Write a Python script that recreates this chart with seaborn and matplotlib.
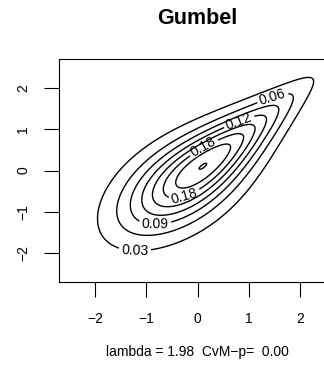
import math
import numpy as np
import matplotlib
matplotlib.use("Agg")
import matplotlib.pyplot as plt
import seaborn as sns

# Fitted Gumbel copula with standard normal margins
family = "Gumbel"
theta = 1.98
cvm_p = 0.00
levels = [0.03, 0.06, 0.09, 0.12, 0.15, 0.18, 0.21, 0.24]
labelled_levels = [0.03, 0.06, 0.09, 0.12, 0.15, 0.18]
ticks = [-2, -1, 0, 1, 2]
grid_lo, grid_hi, grid_n = -2.5, 2.5, 401

# where each contour label sits along its curve
label_spots = [(-1.22, -1.90), (1.47, 1.74), (-0.83, -1.22),
               (0.82, 1.15), (0.11, 0.58), (-0.28, -0.51)]

sns.set_theme(style="white")
plt.rcParams["font.family"] = ["Liberation Sans", "DejaVu Sans"]
plt.rcParams["axes.unicode_minus"] = True
plt.rcParams["text.color"] = "black"
plt.rcParams["axes.labelcolor"] = "black"

_erf = np.vectorize(math.erf)


def norm_cdf(z):
    return 0.5 * (1.0 + _erf(z / math.sqrt(2.0)))


def norm_pdf(z):
    return np.exp(-0.5 * z * z) / math.sqrt(2.0 * math.pi)


def gumbel_density(z1, z2, th):
    u, v = norm_cdf(z1), norm_cdf(z2)
    x, y = -np.log(u), -np.log(v)
    a = x ** th + y ** th
    s = a ** (1.0 / th)
    cop = np.exp(-s)
    c = cop * (x * y) ** (th - 1) / (u * v) * a ** (1.0 / th - 2.0) * (s + th - 1.0)
    return c * norm_pdf(z1) * norm_pdf(z2)


g = np.linspace(grid_lo, grid_hi, grid_n)
X, Y = np.meshgrid(g, g)
Z = gumbel_density(X, Y, theta)

W, H = 324, 366
fig = plt.figure(figsize=(W / 100, H / 100), dpi=100)
fig.patch.set_facecolor("white")
ax = fig.add_axes([59 / W, 84.3 / H, 277.2 / W, 222.4 / H])
ax.set_facecolor("white")

cs = ax.contour(X, Y, Z, levels=levels, colors="black", linewidths=1.0)
ax.clabel(cs, levels=labelled_levels, fmt="%.2f", fontsize=10, inline=True,
          inline_spacing=4, manual=label_spots, colors="black")

ax.set_xlim(-2.7, 2.7)
ax.set_ylim(-2.7, 2.7)
ax.set_xticks(ticks)
ax.set_yticks(ticks)
ax.set_xticklabels([f"{t:d}".replace("-", "\u2212") for t in ticks])
ax.set_yticklabels([f"{t:d}".replace("-", "\u2212") for t in ticks],
                   rotation=90, va="center")
ax.tick_params(axis="both", direction="out", length=10.7, width=0.8,
               colors="black", labelsize=10, bottom=True, left=True)
ax.tick_params(axis="x", pad=11)
ax.tick_params(axis="y", pad=10)
for sp in ax.spines.values():
    sp.set_color("black")
    sp.set_linewidth(0.8)
    sp.set_visible(True)
ax.grid(False)

cx = (59 + 277.2 / 2) / W
fig.text(cx, 1 - 18.8 / H, family, ha="center", va="center",
         fontsize=15.5, fontweight="bold", color="black")
fig.text(cx, 1 - 352 / H, f"lambda = {theta:.2f}  CvM\u2212p=  {cvm_p:.2f}",
         ha="center", va="center", fontsize=10, color="black")

fig.savefig("out.png", dpi=100, facecolor="white")
